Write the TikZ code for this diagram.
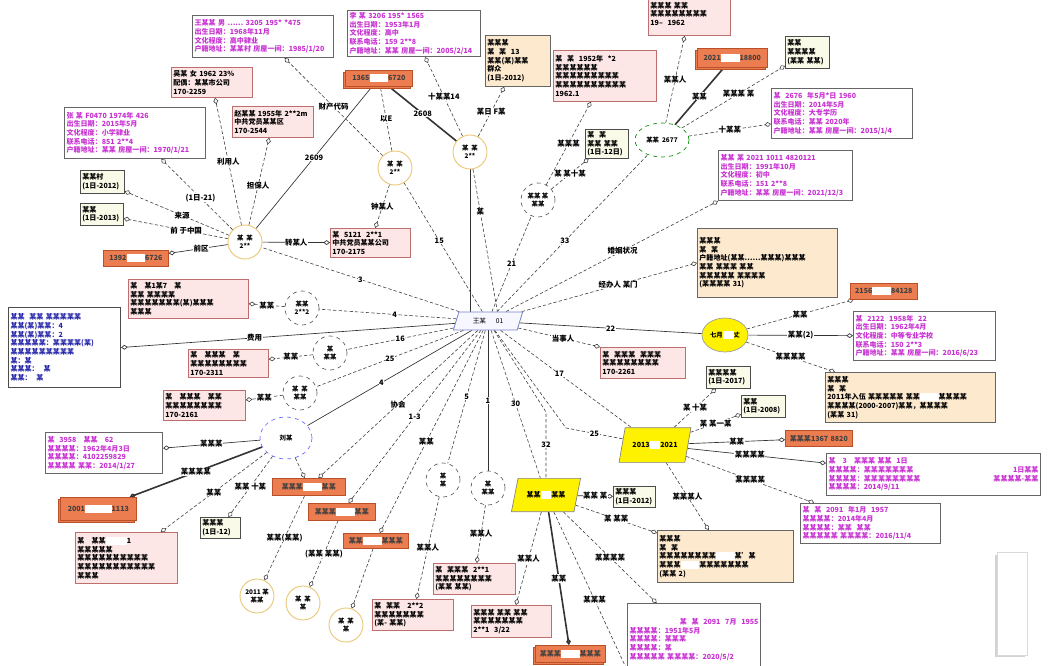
\documentclass[tikz,border=0pt]{standalone}
\usepackage{fontspec}
\setmainfont{Noto Sans CJK SC}
\usetikzlibrary{arrows.meta,shapes.geometric,shadows,backgrounds}
\definecolor{pinkfill}{RGB}{253,230,230}
\definecolor{pinkline}{RGB}{190,110,110}
\definecolor{beigefill}{RGB}{253,233,206}
\definecolor{yfill}{RGB}{250,250,232}
\definecolor{orfill}{RGB}{235,125,80}
\definecolor{orline}{RGB}{185,80,40}
\definecolor{magtext}{RGB}{200,50,210}
\definecolor{bluetext}{RGB}{40,40,170}
\definecolor{ycircle}{RGB}{235,200,120}
\definecolor{hubline}{RGB}{120,130,200}
\newcommand{\wblk}[1]{{\color{white}\rule[-1pt]{#1pt}{6pt}}}
\newcommand{\mybox}[7]{%
  \pgfmathsetmacro{\myBW}{(#5-#3)*0.75}%
  \pgfmathsetmacro{\myBH}{(#6-#4)*0.75}%
  \pgfmathsetmacro{\myTW}{\myBW-3}%
  \node[#1, anchor=north west, inner sep=1.5pt, minimum width=\myBW pt,
        minimum height=\myBH pt, text width=\myTW pt] (#2) at (#3,#4) {#7};}
\begin{document}
\begin{tikzpicture}[x=0.75pt,y=-0.75pt,
  base/.style={font=\fontsize{5.3}{6.5}\selectfont\bfseries, align=left},
  pinkbx/.style={base, draw=pinkline, fill=pinkfill, line width=0.6pt},
  magbx/.style={base, draw=black!60, fill=white, text=magtext, line width=0.8pt},
  bluebx/.style={base, draw=black!70, fill=white, text=bluetext, line width=0.8pt},
  beigebx/.style={base, draw=black!60, fill=beigefill, line width=0.6pt},
  ybx/.style={base, draw=black!70, fill=yfill, line width=0.5pt},
  orbx/.style={base, align=center, draw=orline, fill=orfill, text=black!75, line width=0.5pt},
  orbxx/.style={orbx, copy shadow={shadow xshift=-1.5pt, shadow yshift=-1.8pt}},
  ycirc/.style={circle, draw=ycircle, line width=0.7pt, fill=white, minimum size=25.5pt,
     inner sep=0pt, align=center, font=\fontsize{4.8}{5.8}\selectfont\bfseries},
  dcirc/.style={ycirc, draw=black!70, dashed, line width=0.45pt},
  hubst/.style={trapezium, trapezium left angle=65, trapezium right angle=115,
     trapezium stretches=true, draw=hubline, fill=blue!3, line width=0.6pt,
     minimum width=52pt, minimum height=13.5pt, inner sep=0pt, font=\fontsize{5}{6}\selectfont},
  ypara/.style={trapezium, trapezium left angle=60, trapezium right angle=120,
     trapezium stretches=true, draw=black!50, fill=yellow, line width=0.5pt,
     minimum width=54pt, minimum height=26pt, inner sep=0pt, font=\fontsize{5.3}{6}\selectfont\bfseries},
  ed/.style={draw=black!75, line width=0.45pt, dash pattern=on 2.5pt off 1.6pt},
  es/.style={draw=black!80, line width=0.5pt},
  eb/.style={draw=black!80, line width=1.2pt},
  dia/.style={-{Diamond[open,length=5pt,width=3.6pt]}},
  lbl/.style={font=\fontsize{5.6}{6}\selectfont\bfseries, fill=white, inner sep=0.4pt, text=black}
]
\useasboundingbox (0,0) rectangle (1049,666);
\clip (0,0) rectangle (1049,666);

% ---------------- hub and shapes ----------------
\node[hubst] (C0) at (488,321) {王某 \quad\ 01};

% top-left cluster
\mybox{magbx}{A}{192}{15}{333}{57}{王某某 男 …… 3205 195* *475\\出生日期：1968年11月\\文化程度：高中肄业\\户籍地址：某某村 房屋一间：1985/1/20}
\mybox{pinkbx}{B}{171}{67}{252}{97}{吴某 女 1962 23\%\\配偶：某某市公司\\170-2259}
\mybox{magbx}{C}{64}{107}{205}{158}{张 某 F0470 1974年 426\\出生日期：2015年5月\\文化程度：小学肄业\\联系电话：851 2**4\\户籍地址：某某 房屋一间：1970/1/21}
\mybox{pinkbx}{D}{232}{106}{313}{137}{赵某某 1955年 2**2m\\中共党员某某区\\170-2544}
\mybox{ybx}{E}{80}{170}{124}{193}{某某村\\(1日-2012)}
\mybox{ybx}{F}{80}{203}{123}{225}{某某\\(1日-2013)}
\mybox{orbx}{G}{103}{250}{168}{266}{1392\wblk{14}6726}
\node[ycirc] (H) at (245,242) {某\ \ 某\\2**};
\mybox{pinkbx}{I}{330}{228}{410}{257}{某\ \ 5121\ \ 2**1\\中共党员某某公司\\170-2175}
\mybox{orbxx}{J}{345}{70}{412}{86}{1365\wblk{14}6720}
\node[ycirc] (K) at (395,168) {某\ \ 某\\2**};
\node[ycirc] (L) at (470,152) {某\ \ 某\\2**};
\mybox{magbx}{M}{347}{10}{480}{55}{李 某 3206 195* 1565\\出生日期：1953年1月\\文化程度：高中\\联系电话：159 2**8\\户籍地址：某某 房屋一间：2005/2/14}
\mybox{beigebx}{N}{485}{35}{550}{86}{某某某\\某\ \ 某\ \ 13\\某某(某)某某\\群众\\(1日-2012)}
\mybox{pinkbx}{O}{553}{50}{656}{101}{某\ \ 某\ \ 1952年\ \ *2\\某某某某某某\\某某某某某某某某某\\某某某某某某某某某某\\1962.1}
\mybox{ybx}{P}{585}{129}{628}{158}{某\ \ 某\\某某 某某\\(1日-12日)}
\node[dcirc] (Q) at (538,200) {某某\ 某\\某某};

% top-right cluster
\mybox{pinkbx}{S}{648}{-8}{730}{35}{某某某 某某\\某某某某某某某某\\19--\ \ 1962}
\node[ellipse, draw=green!55!black, dashed, line width=0.5pt, fill=white, minimum width=40.5pt,
      minimum height=25.5pt, inner sep=0pt, font=\fontsize{4.8}{5.8}\selectfont\bfseries] (R) at (662,140) {某某\ \ 2677};
\mybox{orbxx}{T}{697}{48}{767}{67}{2021\wblk{14}18800}
\mybox{ybx}{U}{785}{36}{829}{68}{某某\\某某某某\\(某某 某某)}
\mybox{magbx}{V}{771}{88}{912}{138}{某\ \ 2676\ \ 年5月*日 1960\\出生日期：2014年5月\\文化程度：大专学历\\联系电话：某某 2020年\\户籍地址：某某 房屋一间：2015/1/4}
\mybox{magbx}{W}{718}{150}{852}{200}{某某 某 2021 1011 4820121\\出生日期：1991年10月\\文化程度：初中\\联系电话：151 2**8\\户籍地址：某某 房屋一间：2021/12/3}
\mybox{beigebx}{X}{697}{228}{837}{297}{某某某\\某\ \ 某\\户籍地址(某某……某某某)某某某\\某某 某某某 某某\\某某某某某 某某某某\\(某某某某 31)}

% right cluster
\mybox{orbx}{Y}{850}{283}{917}{299}{2156\wblk{14}84128}
\node[ellipse, draw=black!40, fill=yellow, line width=0.5pt, minimum width=34.5pt,
      minimum height=25.5pt, inner sep=0pt, font=\fontsize{4.8}{5.8}\selectfont\bfseries] (Z) at (725,335) {七月\wblk{8}丈};
\mybox{magbx}{AA}{853}{311}{995}{360}{某\ \ 2122\ \ 1958年\ \ 22\\出生日期：1962年4月\\文化程度：中等专业学校\\联系电话：150 2**3\\户籍地址：某某 房屋一间：2016/6/23}
\mybox{beigebx}{BB}{825}{372}{995}{422}{某某某\\某\ \ 某\\2011年入伍 某某某某某 某某\wblk{14}某某某某\\某某某某(2000-2007)某某，某某某某\\(某某 31)}
\mybox{ybx}{CC}{706}{366}{750}{388}{某某某某\\(1日-2017)}
\mybox{ybx}{DD}{741}{395}{785}{417}{某某\\(1日-2008)}
\node[ypara] (EE) at (655,445) {2013\wblk{8}2021};
\mybox{orbx}{FF}{785}{430}{852}{446}{某某某1367 8820}
\mybox{magbx}{GG}{826}{453}{1040}{495}{某\ \ \ 3\ \ \ 某某某 某某\ \ 1日\\某某某某：某某某某某某某 \hfill 1日某某\\某某某某：某某某某某某某某 \hfill 某某某某-某某\\某某某某：2014/9/11}
\mybox{magbx}{HH}{800}{503}{940}{543}{某\ \ 某\ \ 2091\ \ 年1月\ \ 1957\\某某某某：2014年4月\\某某某某：某某\ \ 某某\\某某某某某 某某某某：2016/11/4}
\node[draw=black!15, fill=white, drop shadow={shadow xshift=-1.5pt, shadow yshift=-1.5pt, opacity=0.35},
      minimum width=22.5pt, minimum height=77pt, inner sep=0pt] (II) at (1012,604) {};
\mybox{beigebx}{JJ}{657}{530}{793}{582}{某某某\\某\ \ 某\\某某某某某某某某\wblk{14}某'某\\某某某\wblk{14}某某某某某某某\\(某某 2)}
\mybox{ybx}{KK}{613}{486}{655}{507}{某某某\\(1日-2012)}
\node[ypara, minimum width=52pt, minimum height=25pt] (LL) at (546,495) {某某\wblk{8}某某};
\mybox{magbx}{MM}{627}{603}{760}{675}{\hfill 某\ \ 某\ \ 2091\ \ 7月\ \ 1955\\某某某某：1951年5月\\某某某某：某某某\\某某某某：某\\某某某某某 某某某某：2020/5/2}
\mybox{orbxx}{NN}{535}{645}{605}{662}{某某某\wblk{14}某某某}
\mybox{pinkbx}{OO}{471}{605}{551}{637}{某某某 某某 某某\\某某某某某某某\\2**1\ \ 3/22}
\mybox{pinkbx}{PP}{433}{563}{515}{594}{某\ \ 某某某\ \ 2**1\\某某某某某某某某\\(某某 某某)}
\mybox{pinkbx}{QQ}{372}{599}{453}{630}{某\ \ 某某\ \ \ 2**2\\某某某某某某某\\(某-\ 某某)}
\node[dcirc] (RR) at (443,480) {某\\某};
\node[dcirc] (SS) at (488,488) {某\\某某};

% bottom-left cluster
\mybox{orbx}{TT}{343}{533}{408}{548}{某某\wblk{14}某某某}
\mybox{orbx}{UU}{308}{503}{375}{520}{某某某\wblk{14}某某}
\mybox{orbx}{VV}{272}{478}{345}{495}{某某某\wblk{14}某某}
\node[ycirc] (c1) at (257,596) {2011\ 某\\某某};
\node[ycirc] (c2) at (303,603) {某\ \ 某\\某};
\node[ycirc] (c3) at (346,625) {某\ \ 某\\某};
\mybox{ybx}{WW}{200}{517}{240}{538}{某某某\\(1日-12)}
\mybox{pinkbx}{XX}{75}{532}{177}{583}{某\ \ \ 某某\wblk{16}1\\某某某某某\\某某某某某某某某某某\\某某某某某某某某某某某\\某某某}
\mybox{orbxx}{YY}{60}{497}{136}{520}{2001\wblk{20}1113}
\mybox{magbx}{ZZ}{45}{432}{162}{473}{某\ \ 3958\ \ \ 某某\ \ \ 62\\某某某某：1962年4月3日\\某某某某：4102259829\\某某某某 某某：2014/1/27}
\node[ellipse, draw=blue!60, dashed, line width=0.5pt, fill=white, minimum width=39pt,
      minimum height=31.5pt, inner sep=0pt, font=\fontsize{4.8}{5.8}\selectfont\bfseries] (AB) at (286,438) {刘某};

% left cluster
\mybox{bluebx}{AC}{8}{307}{120}{387}{某某\ \ 某某 某某某某某\\某某(某)某某：4\\某某(某)某某：2\\某某某某某：某某某某(某)\\某某某某某某某某某\\某：某\\某某某：\ \ 某\\某某：\ \ 某}
\mybox{pinkbx}{AD}{128}{279}{248}{318}{某\ \ \ 某1某7\ \ \ 某\\某某 某某某某\\某某某某某某某(某)某某某\\某某某}
\node[dcirc] (AE) at (302,308) {某某\\2**2};
\mybox{pinkbx}{AF}{188}{349}{268}{377}{某\ \ \ 某某某\ \ \ 某\\某某某某某某某某\\170-2311}
\node[dcirc] (AG) at (330,353) {某\\某某};
\mybox{pinkbx}{AH}{163}{390}{245}{420}{某\ \ \ 某某某\ \ \ 某某\\某某某某某某某某\\170-2161}
\node[dcirc] (AI) at (300,393) {某\ \ 某\\某某};
\mybox{pinkbx}{AJ}{600}{347}{685}{378}{某\ \ 某某某\ \ 某某某\\某某某某某某某某\\170-2261}

\coordinate (k1) at (566,428);
\coordinate (k2) at (546,412);
\coordinate (k3) at (628,672);

% ---------------- connectors ----------------
\begin{pgfonlayer}{background}
% hub
\draw[ed] (C0) -- node[lbl,pos=0.55]{15} (K);
\draw[es] (L.south) -- (L.south |- C0.north);
\draw[ed] (L) -- node[lbl,pos=0.3]{某} (C0.north east);
\draw[ed] (C0) -- node[lbl,pos=0.5]{21} (Q);
\draw[ed] (C0) -- node[lbl,pos=0.45]{33} (R);
\draw[ed,dia] (C0) -- node[lbl,pos=0.55]{婚姻状况} (W.south west);
\draw[ed,dia] (C0) -- node[lbl,pos=0.55]{经办人 某门} (X.west);
\draw[es] (C0) -- node[lbl,pos=0.5]{22} (Z);
\draw[ed,dia] (C0) -- node[lbl,pos=0.55]{当事人} (AJ.north west);
\draw[ed] (C0) -- node[lbl,pos=0.45]{17} (EE);
\draw[ed] (C0) -- (k1) -- node[lbl,pos=0.5]{25} (EE);
\draw[ed] (C0) -- node[lbl,pos=0.5]{30} (LL);
\draw[ed] (C0) -- (k2) -- node[lbl,pos=0.5]{32} (LL.north);
\draw[es] (C0.south -| SS) -- node[lbl,pos=0.5]{1} (SS);
\draw[ed] (C0) -- node[lbl,pos=0.5]{5} (RR);
\draw[ed,dia] (C0) -- node[lbl,pos=0.55]{某某} (TT);
\draw[ed,dia] (C0) -- node[lbl,pos=0.5]{1-3} (UU);
\draw[ed,dia] (C0) -- node[lbl,pos=0.5]{协会} (VV);
\draw[es] (C0) -- node[lbl,pos=0.55]{4} (AB);
\draw[ed] (C0) -- node[lbl,pos=0.5]{25} (AI);
\draw[ed] (C0) -- node[lbl,pos=0.5]{16} (AG);
\draw[ed] (C0) -- node[lbl,pos=0.45]{4} (AE);
\draw[es,dia] (C0) -- node[lbl,pos=0.6]{费用} (AC.east);
\draw[ed] (C0) -- node[lbl,pos=0.5]{3} (H);
% top-left
\draw[ed,dia] (K) -- node[lbl,pos=0.5]{财产代码} (A);
\draw[ed,dia] (H) -- node[lbl,pos=0.5]{利用人} (B);
\draw[ed,dia] (H) -- node[lbl,pos=0.45]{担保人} (D);
\draw[ed,dia] (H) -- node[lbl,pos=0.45]{(1日-21)} (C);
\draw[ed,dia] (H) -- node[lbl,pos=0.45]{来源} (E);
\draw[ed,dia] (H) -- node[lbl,pos=0.4]{前\ 于中国} (F);
\draw[es,dia] (H) -- node[lbl,pos=0.45]{前区} (G);
\draw[es,dia] (H) -- node[lbl,pos=0.5]{转某人} (I);
\draw[es] (H) -- node[lbl,pos=0.5]{2609} (J);
\draw[ed] (K) -- node[lbl,pos=0.5]{以E} (J);
\draw[ed,dia] (K) -- node[lbl,pos=0.5]{钟某人} (I);
\draw[eb] (L) -- node[lbl,pos=0.5]{2608} (J);
\draw[ed,dia] (L) -- node[lbl,pos=0.5]{十某某14} (M);
\draw[ed,dia] (L) -- node[lbl,pos=0.5]{某日 F某} (N);
\draw[ed,dia] (Q) -- node[lbl,pos=0.5]{某某某} (O);
\draw[ed,dia] (Q) -- node[lbl,pos=0.5]{某\ 某十某} (P);
% top-right
\draw[ed,dia] (R) -- node[lbl,pos=0.5]{某某人} (S);
\draw[eb] (R) -- node[lbl,pos=0.5]{某某} (T);
\draw[ed,dia] (R) -- node[lbl,pos=0.55]{某某某\ 某} (U);
\draw[ed,dia] (R) -- node[lbl,pos=0.5]{十某某} (V);
% right
\draw[ed,dia] (Z) -- node[lbl,pos=0.5]{某某} (Y);
\draw[es,dia] (Z) -- node[lbl,pos=0.5]{某某(2)} (AA);
\draw[ed,dia] (Z) -- node[lbl,pos=0.5]{某某某某} (BB);
\draw[ed,dia] (EE) -- node[lbl,pos=0.5]{某\ 十某} (CC);
\draw[ed,dia] (EE) -- node[lbl,pos=0.5]{某\ 某一某} (DD);
\draw[es,dia] (EE) -- node[lbl,pos=0.5]{某某} (FF);
\draw[es,dia] (EE) -- node[lbl,pos=0.45]{某某某某} (GG);
\draw[ed,dia] (EE) -- node[lbl,pos=0.5]{某某某某} (HH);
\draw[ed,dia] (EE) -- node[lbl,pos=0.5]{某某某人} (JJ);
\draw[es,dia] (LL) -- node[lbl,pos=0.5]{某某\ 某} (KK);
\draw[ed,dia] (LL) -- node[lbl,pos=0.5]{某\ 某某} (JJ);
\draw[ed,dia] (LL) -- node[lbl,pos=0.5]{某某人} (OO);
\draw[eb,dia] (LL) -- node[lbl,pos=0.5]{某某} (NN);
\draw[ed,dia] (LL) -- node[lbl,pos=0.5]{某某某某} (MM);
\draw[ed] (LL) -- node[lbl,pos=0.55]{某某某} (k3);
\draw[ed,dia] (RR) -- node[lbl,pos=0.5]{某某人} (QQ);
\draw[ed,dia] (SS) -- node[lbl,pos=0.5]{某某人} (PP);
% bottom-left
\draw[es,dia] (AB) -- node[lbl,pos=0.5]{某某某} (ZZ);
\draw[eb,dia] (AB) -- node[lbl,pos=0.5]{某某某某} (YY);
\draw[ed,dia] (AB) -- node[lbl,pos=0.5]{某某} (XX);
\draw[ed,dia] (AB) -- node[lbl,pos=0.5]{某某\ 十某} (WW);
\draw[ed,dia] (AB) -- (VV);
\draw[ed,dia] (VV) -- node[lbl,pos=0.5]{某某(某某)} (c1);
\draw[ed,dia] (UU) -- node[lbl,pos=0.5]{(某某\ 某某)} (c2);
\draw[ed,dia] (TT) -- (c3);
\draw[ed,dia] (AE) -- node[lbl,pos=0.5]{某某} (AD);
\draw[ed,dia] (AG) -- node[lbl,pos=0.5]{某某} (AF);
\draw[ed,dia] (AI) -- node[lbl,pos=0.5]{某某} (AH);
\end{pgfonlayer}
\end{tikzpicture}
\end{document}
